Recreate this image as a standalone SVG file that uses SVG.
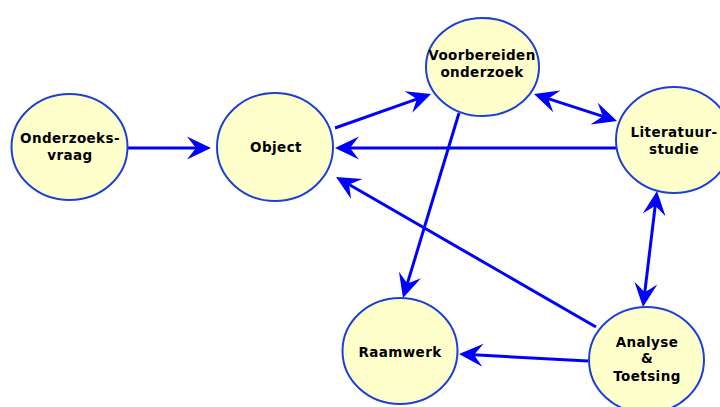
<svg xmlns="http://www.w3.org/2000/svg" width="720" height="407" viewBox="0 0 720 407">
  <defs>
    <style>
      .node ellipse { fill: #ffffcc; stroke: #1c3fd8; stroke-width: 2; }
      .node text { font-family: "DejaVu Sans", Verdana, sans-serif; font-weight: bold; font-size: 13.5px; letter-spacing: 0.4px; fill: #000; text-anchor: middle; }
      #connectors line { stroke: #0000ff; stroke-width: 3; fill: none; }
      .one { marker-end: url(#head); }
      .two { marker-start: url(#head); marker-end: url(#head); }
    </style>
    <!-- barbed arrowhead; the line stops 10px short of the tip -->
    <marker id="head" markerUnits="userSpaceOnUse" markerWidth="26" markerHeight="26" refX="14" refY="12" orient="auto-start-reverse" overflow="visible">
      <path d="M24,12 L0,0.5 L9,12 L0,23.5 Z" fill="#0000ff"/>
    </marker>
  </defs>

  <rect width="720" height="407" fill="#ffffff"/>

  <g id="connectors">
    <line class="one" x1="128" y1="148" x2="201" y2="148"/>
    <line class="one" x1="335" y1="128" x2="421.6" y2="97.3"/>
    <line class="two" x1="543.5" y1="97.1" x2="607.5" y2="117.9"/>
    <line class="one" x1="616" y1="148" x2="345" y2="148"/>
    <line class="one" x1="459" y1="113" x2="405.9" y2="288.4"/>
    <line class="two" x1="655.8" y1="200.9" x2="644.2" y2="297.1"/>
    <line class="one" x1="596" y1="327" x2="344.7" y2="182"/>
    <line class="one" x1="588" y1="361" x2="469" y2="354.5"/>
  </g>

  <g id="onderzoeksvraag" class="node">
    <ellipse cx="69.5" cy="147" rx="58" ry="53"/>
    <text x="70" y="143">Onderzoeks-</text>
    <text x="70" y="160">vraag</text>
  </g>

  <g id="object" class="node">
    <ellipse cx="275" cy="147" rx="58" ry="54"/>
    <text x="276" y="152">Object</text>
  </g>

  <g id="voorbereiden" class="node">
    <ellipse cx="482.5" cy="67" rx="56.5" ry="49"/>
    <text x="482" y="60">Voorbereiden</text>
    <text x="482" y="77">onderzoek</text>
  </g>

  <g id="literatuurstudie" class="node">
    <ellipse cx="674" cy="140" rx="58" ry="53"/>
    <text x="674" y="137">Literatuur-</text>
    <text x="674" y="154">studie</text>
  </g>

  <g id="raamwerk" class="node">
    <ellipse cx="400" cy="351" rx="57.5" ry="53"/>
    <text x="400" y="357">Raamwerk</text>
  </g>

  <g id="analyse" class="node">
    <ellipse cx="646.5" cy="360" rx="57.5" ry="53"/>
    <text x="647" y="347">Analyse</text>
    <text x="647" y="363">&amp;</text>
    <text x="647" y="381">Toetsing</text>
  </g>
</svg>
